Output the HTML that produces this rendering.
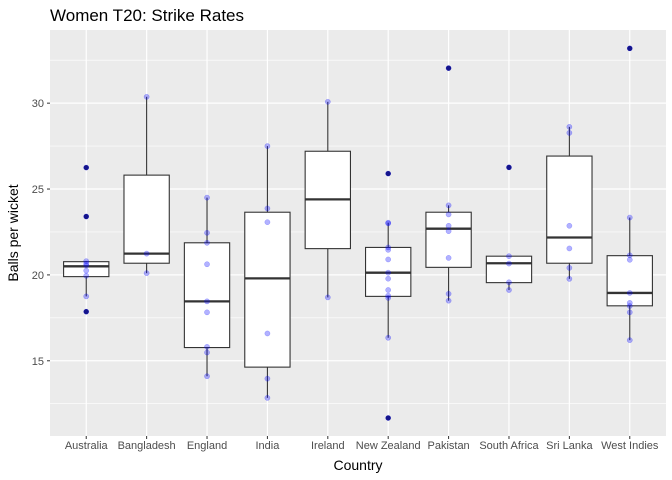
<!DOCTYPE html>
<html><head><meta charset="utf-8"><style>
body{margin:0;background:#fff}
svg{display:block;font-family:"Liberation Sans",sans-serif}
</style></head><body>
<svg id="chart" width="672" height="480">
<rect width="672" height="480" fill="#fff"/>
<text x="50" y="21" font-size="17" fill="#000">Women T20: Strike Rates</text>
<rect x="50" y="30" width="616" height="406" fill="#ebebeb"/>
<g id="grid"></g><g id="boxes"></g><g id="pts"></g><g id="axes"></g>
<text x="358" y="470" font-size="14" text-anchor="middle" fill="#000">Country</text>
<text transform="translate(18,233) rotate(-90)" font-size="14" text-anchor="middle" fill="#000">Balls per wicket</text>
</svg>
<script>
const categories=["Australia","Bangladesh","England","India","Ireland","New Zealand","Pakistan","South Africa","Sri Lanka","West Indies"];
const whiskerLow=[18.75,20.1,14.1,12.84,18.69,16.34,18.5,19.12,19.77,16.2];
const q1=[19.9,20.68,15.77,14.63,21.53,18.75,20.44,19.55,20.68,18.2];
const medians=[20.5,21.24,18.46,19.8,24.4,20.13,22.69,20.68,22.18,18.95];
const q3=[20.77,25.81,21.87,23.65,27.2,21.6,23.65,21.09,26.92,21.12];
const whiskerHigh=[20.8,30.37,24.5,27.5,30.08,23.04,24.05,21.09,28.62,23.34];
const outliers=[[26.25,23.4,17.86],[],[],[],[],[25.9,11.67],[32.04],[26.26],[],[33.19]];
const points=[
[26.25,23.4,17.86,20.8,20.66,20.55,20.25,19.95,18.75],
[30.37,21.24,20.1],
[24.5,22.45,21.87,20.62,18.46,17.82,15.81,15.48,14.1],
[27.5,23.87,23.07,16.59,13.96,12.84],
[30.08,18.69],
[25.9,11.67,23.04,23.0,21.6,21.46,20.9,20.13,19.78,19.12,18.79,18.66,16.34],
[32.04,24.05,23.52,22.86,22.55,20.99,18.9,18.5],
[26.26,21.09,20.66,19.57,19.12],
[28.62,28.27,22.86,21.54,20.41,19.77],
[33.19,23.34,21.14,20.88,18.95,18.37,18.19,17.82,16.2]];
const yTicks=[15,20,25,30];
const yMinor=[12.5,17.5,22.5,27.5,32.5];
const NS="http://www.w3.org/2000/svg";
const L=50,R=666,T=30,B=436,ymin=10.62,ymax=34.26;
const step=(R-L)/(categories.length+0.2);
const x=i=>L+(0.6+i)*step;
const y=v=>B-(v-ymin)/(ymax-ymin)*(B-T);
function mk(p,t,a){const e=document.createElementNS(NS,t);for(const k in a)e.setAttribute(k,a[k]);document.getElementById(p).appendChild(e);return e;}
yMinor.forEach(v=>{const e=mk('grid','line',{x1:L,x2:R,y1:y(v),y2:y(v),stroke:'#fff','stroke-width':0.6});

});
yTicks.forEach(v=>{const e=mk('grid','line',{x1:L,x2:R,y1:y(v),y2:y(v),stroke:'#fff','stroke-width':1.2});


const t=mk('axes','text',{x:L-6,y:y(v)+4,'font-size':11,'text-anchor':'end',fill:'#4d4d4d'});t.textContent=v;


mk('axes','line',{x1:L-3,x2:L,y1:y(v),y2:y(v),stroke:'#333','stroke-width':1});});
categories.forEach((c,i)=>{const cx=x(i),hw=step*0.375;
const g=mk('grid','line',{x1:cx,x2:cx,y1:T,y2:B,stroke:'#fff','stroke-width':1.2});


const t=mk('axes','text',{x:cx,y:449,'font-size':11,'text-anchor':'middle',fill:'#4d4d4d'});t.textContent=c;


mk('axes','line',{x1:cx,x2:cx,y1:B,y2:B+3,stroke:'#333','stroke-width':1});
const w1=mk('boxes','line',{x1:cx,x2:cx,y1:y(whiskerHigh[i]),y2:y(q3[i]),stroke:'#333','stroke-width':1.1});


const w2=mk('boxes','line',{x1:cx,x2:cx,y1:y(q1[i]),y2:y(whiskerLow[i]),stroke:'#333','stroke-width':1.1});


const b=mk('boxes','rect',{x:cx-hw,y:y(q3[i]),width:2*hw,height:y(q1[i])-y(q3[i]),fill:'#fff',stroke:'#333','stroke-width':1.1});


const m=mk('boxes','line',{x1:cx-hw,x2:cx+hw,y1:y(medians[i]),y2:y(medians[i]),stroke:'#333','stroke-width':2.3});


outliers[i].forEach(v=>{const o=mk('pts','circle',{cx:cx,cy:y(v),r:2.6,fill:'#1e1e5a'});

});
points[i].forEach(v=>{const p=mk('pts','circle',{cx:cx,cy:y(v),r:2.6,fill:'#0000ff','fill-opacity':0.3,stroke:'#0000ff','stroke-opacity':0.3,'stroke-width':0.5});

});
});
</script>
</body></html>
